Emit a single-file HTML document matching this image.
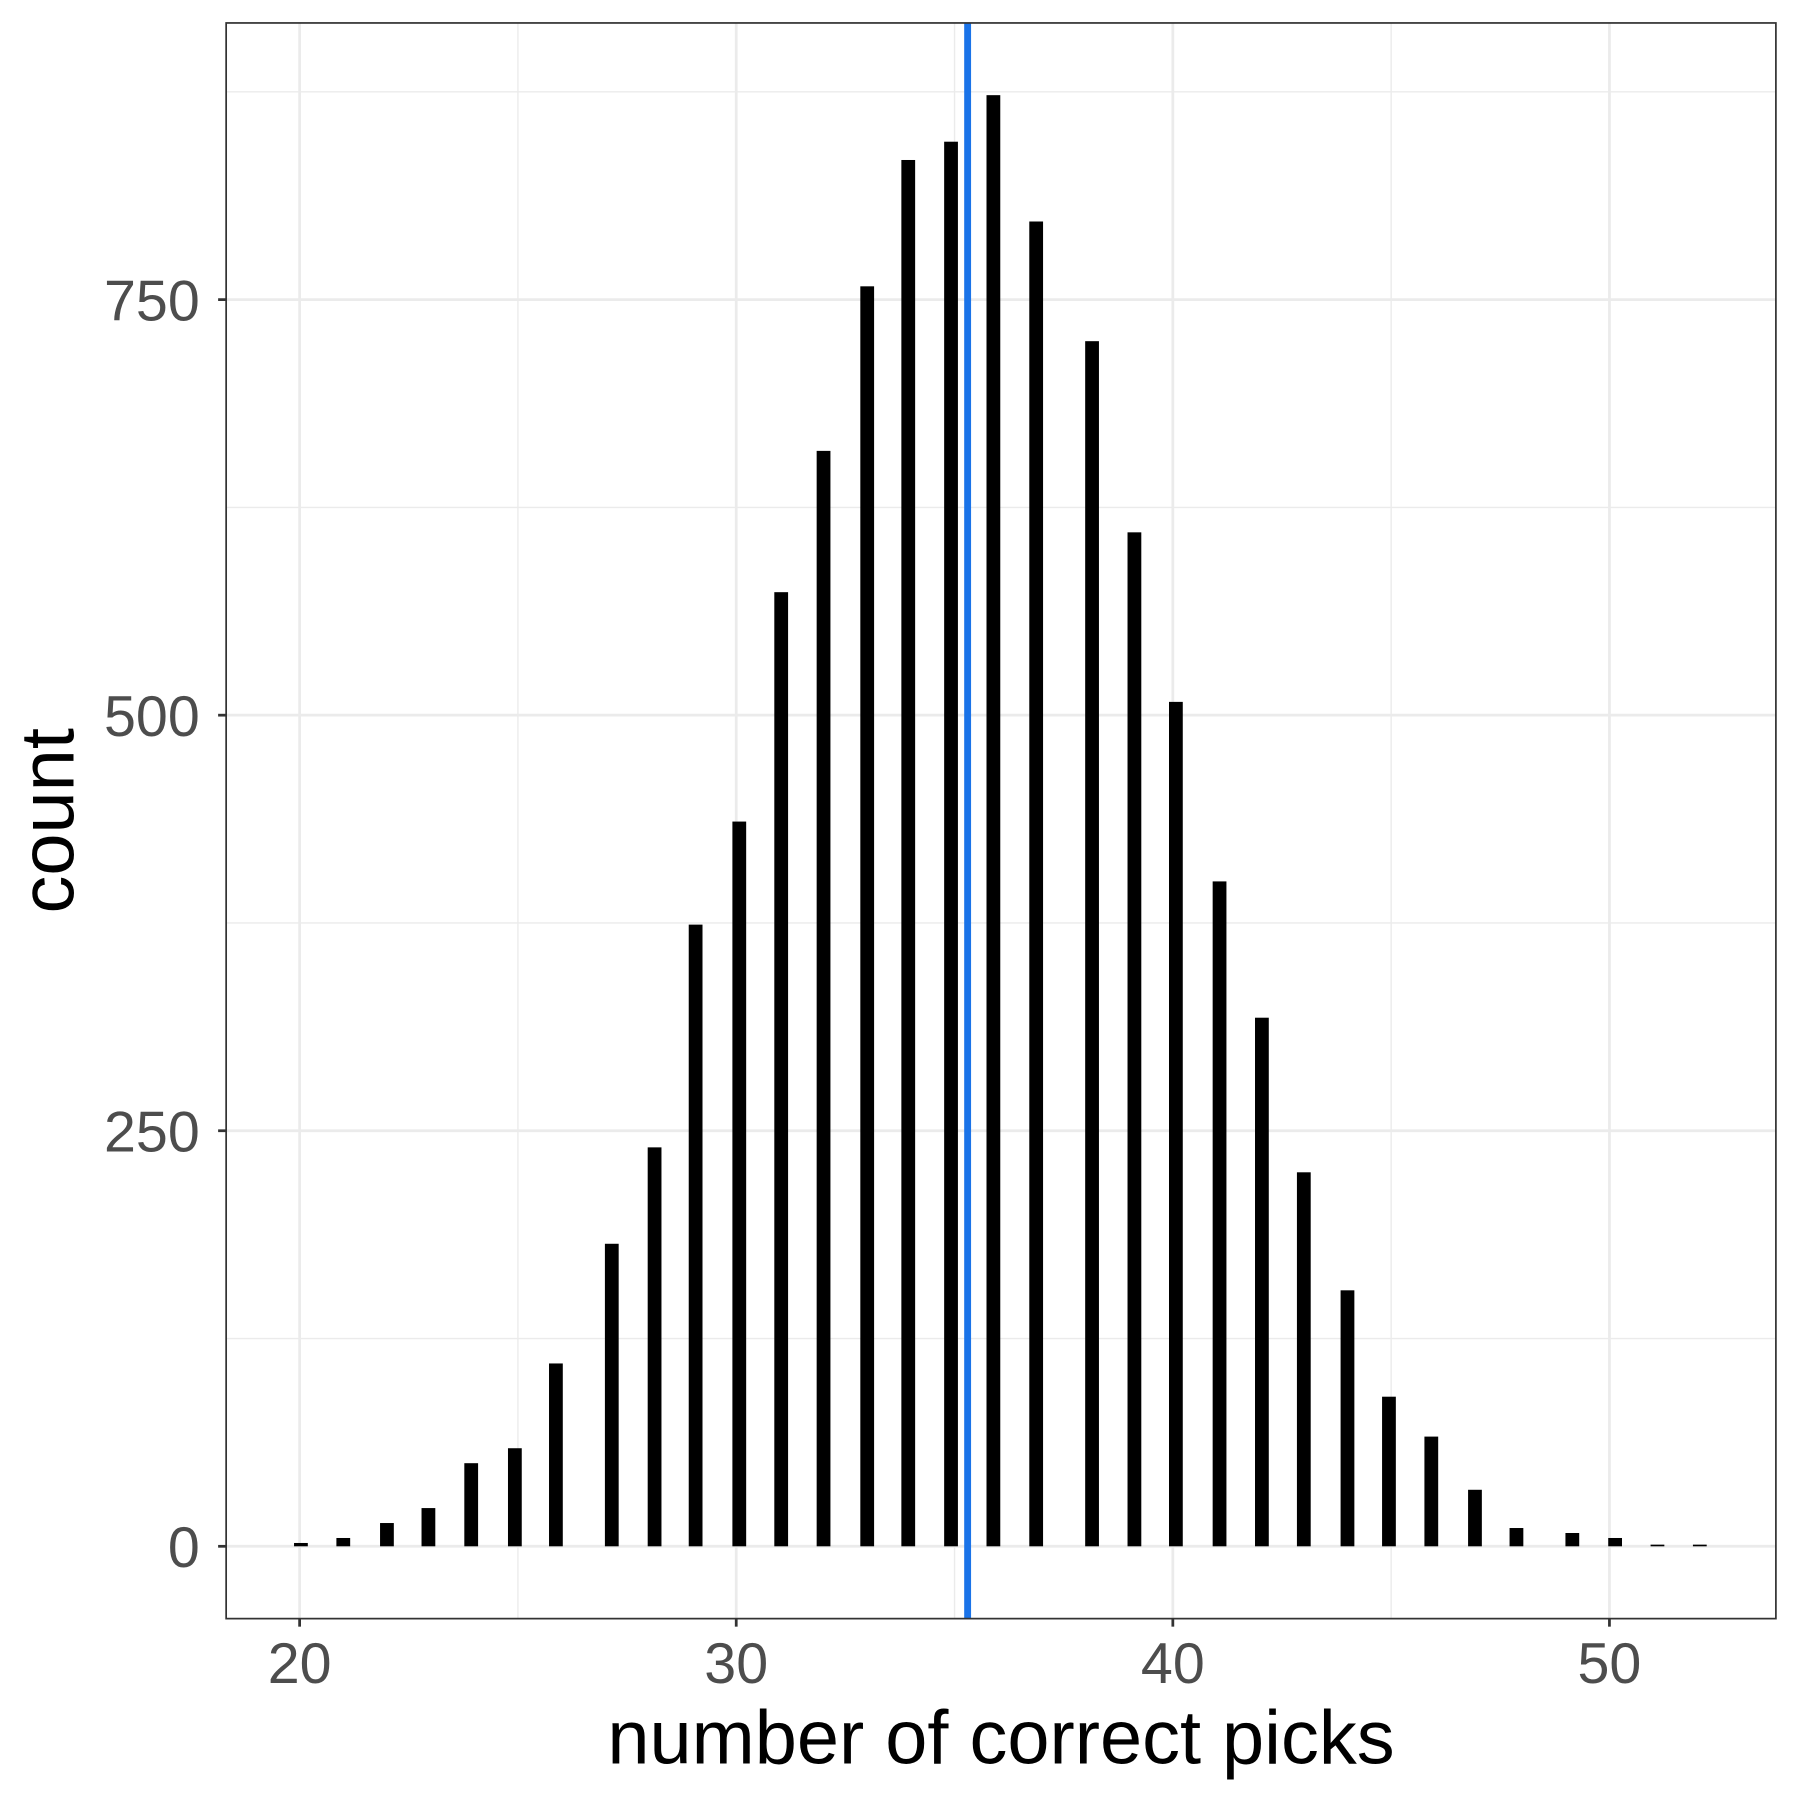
<!DOCTYPE html>
<html><head><meta charset="utf-8"><style>html,body{margin:0;padding:0;background:#fff}svg{display:block}</style></head>
<body>
<svg id="chart" width="1800" height="1800" viewBox="0 0 1568 1568" xmlns="http://www.w3.org/2000/svg" font-family="Liberation Sans, Arial, sans-serif">
<rect width="1568" height="1568" fill="#fff"/>
<g id="grid"></g><g id="bars"></g><g id="axes"></g>
</svg>
<script>
const binCenters=[20.03,21.0,22.0,22.95,23.93,24.93,25.87,27.15,28.13,29.07,30.07,31.03,32.0,33.0,33.94,34.92,35.89,36.87,38.15,39.12,40.07,41.07,42.04,43.0,44.0,44.95,45.92,46.92,47.87,49.15,50.13,51.1,52.07];
const counts=[2,5,14,23,50,59,110,182,240,374,436,574,659,758,834,845,873,797,725,610,508,400,318,225,154,90,66,34,11,8,5,1,1];
const vlineValue=35.30;
const xTicks=[20,30,40,50];
const yTicks=[0,250,500,750];
const NS="http://www.w3.org/2000/svg";
const L=197,R=1547,T=20,B=1410;
const xs=v=>261+(v-20)*(1402-261)/30;
const ys=v=>1347-v*(1347-261)/750;
function el(tag,attrs,parent){const e=document.createElementNS(NS,tag);for(const k in attrs)e.setAttribute(k,attrs[k]);parent.appendChild(e);return e;}
const grid=document.getElementById('grid'),bars=document.getElementById('bars'),axes=document.getElementById('axes');
el('rect',{x:L,y:T,width:R-L,height:B-T,fill:'#fff'},grid);
for(let v=125;v<=875;v+=250){const g=el('line',{x1:L,x2:R,y1:ys(v),y2:ys(v),stroke:'#ebebeb','stroke-width':1.2},grid);

}
for(const v of [25,35,45]){const g=el('line',{x1:xs(v),x2:xs(v),y1:T,y2:B,stroke:'#ebebeb','stroke-width':1.2},grid);

}
for(const v of yTicks){const g=el('line',{x1:L,x2:R,y1:ys(v),y2:ys(v),stroke:'#ebebeb','stroke-width':2.4},grid);

}
for(const v of xTicks){const g=el('line',{x1:xs(v),x2:xs(v),y1:T,y2:B,stroke:'#ebebeb','stroke-width':2.4},grid);

}
binCenters.forEach((c,i)=>{const h=ys(0)-ys(counts[i]);const r=el('rect',{x:xs(c)-6,y:ys(counts[i]),width:12,height:Math.max(h,0.8),fill:'#000'},bars);

});
const vl=el('line',{x1:xs(vlineValue),x2:xs(vlineValue),y1:T,y2:B,stroke:'#1a73e8','stroke-width':6},bars);


const fr=el('rect',{x:L,y:T,width:R-L,height:B-T,fill:'none',stroke:'#333','stroke-width':1.5},axes);


for(const v of yTicks){el('line',{x1:L-7,x2:L,y1:ys(v),y2:ys(v),stroke:'#333','stroke-width':2.4},axes);
const t=el('text',{x:174,y:ys(v)+18,'text-anchor':'end','font-size':50,fill:'#4d4d4d'},axes);t.textContent=v;

}
for(const v of xTicks){el('line',{x1:xs(v),x2:xs(v),y1:B,y2:B+7,stroke:'#333','stroke-width':2.4},axes);
const t=el('text',{x:xs(v),y:1466,'text-anchor':'middle','font-size':50,fill:'#4d4d4d'},axes);t.textContent=v;

}
const xt=el('text',{x:(L+R)/2,y:1536,'text-anchor':'middle','font-size':66,fill:'#000'},axes);xt.textContent='number of correct picks';


const yt=el('text',{x:0,y:0,'text-anchor':'middle','font-size':66,fill:'#000',transform:'translate(64,'+((T+B)/2)+') rotate(-90)'},axes);yt.textContent='count';


</script>
</body></html>
